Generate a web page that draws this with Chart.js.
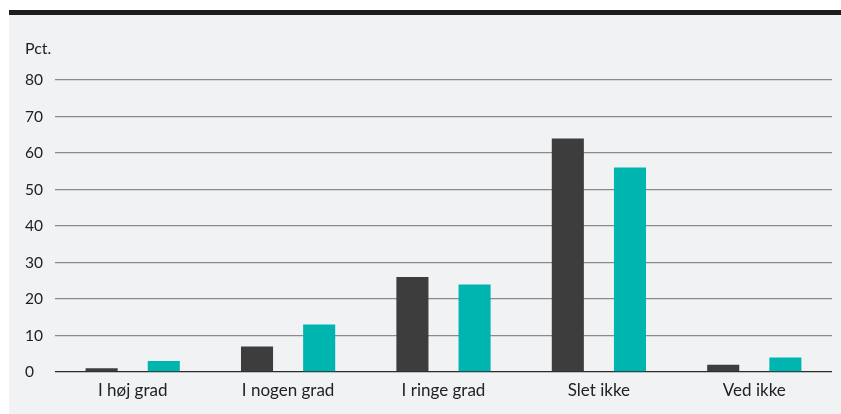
<!DOCTYPE html>
<html>
<head>
<meta charset="utf-8">
<script src="https://cdn.jsdelivr.net/npm/chart.js@4/dist/chart.umd.min.js"></script>
<style>
  body { margin: 0; background: #fff; }
  #box {
    position: absolute; left: 9px; top: 10px;
    width: 832px; height: 399px;
    border-top: 5px solid #1d1d1d;
    background: #f1f2f4;
  }
  canvas { display: block; }
</style>
</head>
<body>
<div id="box"><canvas id="chart_box" width="832" height="399"></canvas></div>
<script>
// categories and series
var categories = ["I høj grad", "I nogen grad", "I ringe grad", "Slet ikke", "Ved ikke"];
var seriesDark = [1, 7, 26, 64, 2];
var seriesTeal = [3, 13, 24, 56, 4];
var yTicks = [0, 10, 20, 30, 40, 50, 60, 70, 80];

var ctx = document.getElementById('chart_box').getContext('2d');
var chart = new Chart(ctx, {
    type: 'bar',
    data: {
        labels: categories,
        datasets: [{
            label: "Serie 1",
            backgroundColor: '#3d3d3d',
            data: seriesDark,
            categoryPercentage: 0.8,
            barPercentage: 0.516
        }, {
            label: "Serie 2",
            backgroundColor: '#00b5b0',
            data: seriesTeal,
            categoryPercentage: 0.8,
            barPercentage: 0.516
        }]
    },
    options: {
        responsive: false,
        animation: false,
        layout: { padding: { left: 16, right: 9, top: 0, bottom: 13.6 } },
        plugins: {
            legend: { display: false },
            tooltip: { enabled: false },
            title: {
                display: true,
                text: 'Pct.',
                align: 'start',
                color: '#222',
                font: { family: 'Lato', size: 16, weight: 'normal' },
                padding: { top: 24, bottom: 21.8 }
            }
        },
        scales: {
            x: {
                grid: { display: false },
                border: { display: false },
                ticks: {
                    color: '#222',
                    font: { family: 'Lato', size: 17 },
                    padding: 0
                }
            },
            y: {
                min: 0,
                max: 80,
                afterFit: function (s) { s.width = 30; },
                afterBuildTicks: function (s) {
                    s.ticks = yTicks.map(function (v) { return { value: v }; });
                },
                border: { display: false },
                grid: {
                    drawTicks: false,
                    lineWidth: 1.3,
                    color: function (c) { return c.tick && c.tick.value === 0 ? '#2b2b2b' : '#8a8a8a'; }
                },
                ticks: {
                    color: '#222',
                    crossAlign: 'far',
                    font: { family: 'Lato', size: 15.5 },
                    padding: 0
                }
            }
        }
    }
});
</script>
</body>
</html>
